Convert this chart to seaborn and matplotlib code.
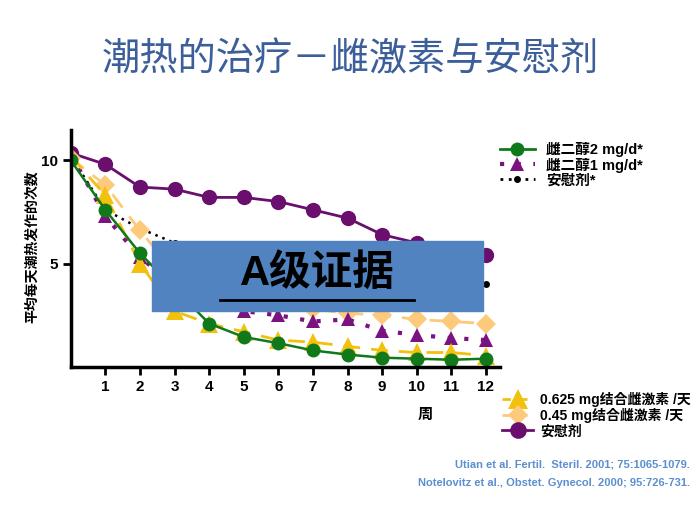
import matplotlib
matplotlib.use("Agg")
import matplotlib.pyplot as plt
import matplotlib.font_manager as fm
import seaborn as sns
import pandas as pd
from matplotlib.lines import Line2D

cjk = None
for f in sorted(fm.findSystemFonts()):
    if "CJK" in f and ("SC" in f or "Sans" in f):
        try:
            fm.fontManager.addfont(f)
            n = fm.FontProperties(fname=f).get_name()
            if cjk is None or "SC" in n:
                cjk = n
        except Exception:
            pass
fams = ["Liberation Sans", cjk or "Noto Sans CJK SC", "DejaVu Sans"]
plt.rcParams["font.family"] = fams
plt.rcParams["font.sans-serif"] = fams

weeks = list(range(13))
e2_2mg = [10.0, 7.6, 5.5, 3.8, 2.1, 1.45, 1.15, 0.8, 0.6, 0.45, 0.4, 0.35, 0.4]
e2_1mg = [10.3, 7.3, 5.3, 4.0, 3.3, 2.7, 2.5, 2.2, 2.3, 1.75, 1.55, 1.4, 1.3]
placebo_a = [10.2, 7.6, 6.7, 6.0, 5.6, 5.3, 5.0, 4.8, 4.6, 4.4, 4.3, 4.1, 4.0]
ce_0625 = [10.2, 8.3, 5.0, 2.7, 2.1, 1.7, 1.3, 1.2, 1.0, 0.8, 0.7, 0.7, 0.55]
ce_045 = [10.1, 8.8, 6.6, 4.6, 3.8, 3.3, 3.0, 2.8, 2.6, 2.5, 2.3, 2.2, 2.1]
placebo_b = [10.35, 9.8, 8.7, 8.6, 8.2, 8.2, 8.0, 7.6, 7.2, 6.4, 6.0, 5.7, 5.4]
xticks = list(range(1, 13))

fig = plt.figure(figsize=(7, 5.25), dpi=100)
ax = fig.add_axes([0.101, 0.301, 0.613, 0.451])

series = [
    (placebo_b, "#6a0f6e", "o", "-", 11, 2.0),
    (placebo_a, "black", "o", (0, (1, 2)), 5, 1.8),
    (ce_045, "#fdc97a", "D", (0, (6, 4)), 10, 2.0),
    (e2_1mg, "#7a1380", "^", (0, (1, 3)), 10, 3.0),
    (ce_0625, "#f2c10d", "^", (0, (6, 4)), 13, 2.0),
    (e2_2mg, "#10791a", "o", "-", 10, 1.8),
]
for vals, c, m, ls, ms, lw in series:
    df = pd.DataFrame({"w": weeks, "v": vals})
    sns.lineplot(data=df, x="w", y="v", ax=ax, color=c, marker=m, linestyle=ls,
                 markersize=ms, linewidth=lw, markeredgewidth=0)

ax.set_xlim(0, 12.4)
ax.set_ylim(0, 11.45)
ax.set_xticks(xticks)
ax.set_xticklabels([str(t) for t in xticks], fontsize=11, fontweight="bold")
ax.set_yticks([5, 10])
ax.set_yticklabels(["5", "10"], fontsize=11, fontweight="bold")
ax.set_xlabel("")
ax.set_ylabel("")
for s in ["top", "right"]:
    ax.spines[s].set_visible(False)
for s in ["left", "bottom"]:
    ax.spines[s].set_linewidth(2.5)
ax.tick_params(width=2, length=6)

fig.text(0.5, 0.885, "潮热的治疗－雌激素与安慰剂", ha="center", va="center",
         fontsize=27.5, color="#3c5f9a")
fig.text(0.045, 0.53, "平均每天潮热发作的次数", rotation=90, ha="center", va="center",
         fontsize=10, fontweight="bold")
fig.text(0.607, 0.21, "周", ha="center", va="center", fontsize=11, fontweight="bold")

fig.patches.append(plt.Rectangle((152/700, 1-311/525), (483-152)/700, 70/525,
                                 transform=fig.transFigure, color="#5083c0", zorder=5))
fig.text(0.454, 1-274/525, "A级证据", ha="center", va="center", fontsize=30,
         fontweight="bold", zorder=6)
fig.add_artist(Line2D([220/700, 414/700], [1-300/525]*2, color="black", lw=2, zorder=6))

h1 = [Line2D([], [], color="#10791a", marker="o", ls="-", ms=10, lw=2, mew=0),
      Line2D([], [], color="#7a1380", marker="^", ls=(0, (1, 3)), ms=10, lw=3, mew=0),
      Line2D([], [], color="black", marker="o", ls=(0, (1, 2)), ms=5, lw=2, mew=0)]
fig.legend(h1, ["雌二醇2 mg/d*", "雌二醇1 mg/d*", "安慰剂*"], loc="upper left",
           bbox_to_anchor=(0.695, 0.755), frameon=False,
           handlelength=2.4, labelspacing=0.05, prop={"weight": "bold", "size": 10.5})
h2 = [Line2D([], [], color="#f2c10d", marker="^", ls=(0, (3, 3)), ms=14, lw=2, mew=0),
      Line2D([], [], color="#fdc97a", marker="D", ls=(0, (3, 3)), ms=10, lw=2, mew=0),
      Line2D([], [], color="#6a0f6e", marker="o", ls="-", ms=12, lw=2, mew=0)]
fig.legend(h2, ["0.625 mg结合雌激素 /天", "0.45 mg结合雌激素 /天", "安慰剂"], loc="upper left",
           bbox_to_anchor=(0.7, 0.278), frameon=False, handlelength=2.2, labelspacing=0.1,
           handletextpad=0.5, prop={"weight": "bold", "size": 10})

fig.text(0.985, 0.11, "Utian et al. Fertil.  Steril. 2001; 75:1065-1079.", ha="right",
         fontsize=8, color="#5b8fd0", fontweight="bold")
fig.text(0.985, 0.075, "Notelovitz et al., Obstet. Gynecol. 2000; 95:726-731.", ha="right",
         fontsize=8, color="#5b8fd0", fontweight="bold")

fig.savefig("out.png", dpi=100)
